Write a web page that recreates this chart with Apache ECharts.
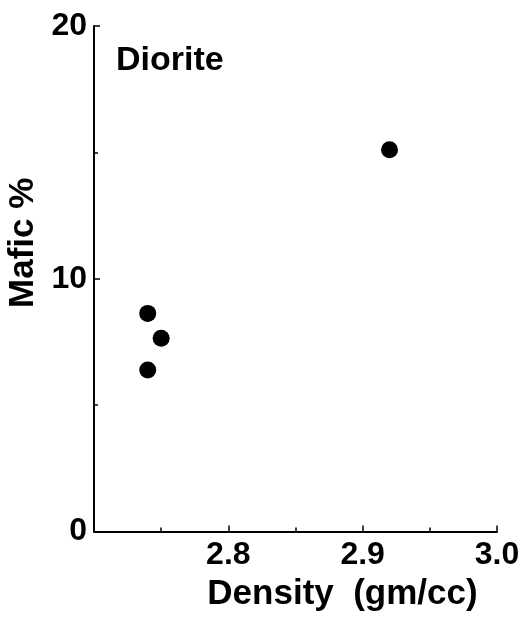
<!DOCTYPE html>
<html>
<head>
<meta charset="utf-8">
<script src="https://cdn.jsdelivr.net/npm/echarts@6/dist/echarts.min.js"></script>
<style>html,body{margin:0;padding:0;background:#fff;}#c{width:525px;height:621px;}</style>
</head>
<body>
<div id="c"></div>
<script>
var density = [2.740, 2.750, 2.740, 2.920];
var mafic = [8.63, 7.65, 6.39, 15.10];
var xTicks = [2.8, 2.9, 3.0];
var yTicks = [0, 10, 20];
var panelLabel = 'Diorite';
var xName = 'Density  (gm/cc)';
var yName = 'Mafic %';

var points = density.map(function (d, i) { return [d, mafic[i]]; });
var font = 'Liberation Sans, Arial, Helvetica, sans-serif';
var chart = echarts.init(document.getElementById('c'));
chart.setOption({
  backgroundColor: '#fff',
  animation: false,
  title: {
    text: panelLabel, left: 111, top: 39,
    textStyle: { fontFamily: font, fontSize: 34, fontWeight: 'bold', color: '#000' }
  },
  grid: { left: 94, right: 28, top: 26, bottom: 89.5, containLabel: false, outerBoundsMode: 'none' },
  xAxis: {
    type: 'value', min: 2.7, max: 3.0, interval: 0.1,
    name: xName, nameLocation: 'middle', nameGap: 42,
    nameTextStyle: { fontFamily: font, fontSize: 35, fontWeight: 'bold', color: '#000', padding: [0, 0, 0, 94] },
    axisLine: { show: true, onZero: false, lineStyle: { color: '#000', width: 2 } },
    axisTick: { show: true, inside: true, length: 6, lineStyle: { color: '#000', width: 1.5 } },
    minorTick: { show: true, splitNumber: 2, length: 4, lineStyle: { color: '#000', width: 1.5 } },
    splitLine: { show: false },
    axisLabel: {
      margin: 8, fontFamily: font, fontSize: 32, fontWeight: 'bold', color: '#000',
      formatter: function (v) {
        var s = v.toFixed(1);
        return xTicks.some(function (t) { return Math.abs(t - v) < 1e-6; }) ? s : '';
      }
    }
  },
  yAxis: {
    type: 'value', min: 0, max: 20, interval: 10,
    name: yName, nameLocation: 'middle', nameGap: 48,
    nameTextStyle: { fontFamily: font, fontSize: 35, fontWeight: 'bold', color: '#000', padding: [0, 0, 0, 72] },
    axisLine: { show: true, lineStyle: { color: '#000', width: 2 } },
    axisTick: { show: true, inside: true, length: 6, lineStyle: { color: '#000', width: 1.5 } },
    minorTick: { show: true, splitNumber: 2, length: 4, lineStyle: { color: '#000', width: 1.5 } },
    splitLine: { show: false },
    axisLabel: {
      margin: 7, fontFamily: font, fontSize: 32, fontWeight: 'bold', color: '#000',
      formatter: function (v) {
        return yTicks.indexOf(v) >= 0 ? String(v) : '';
      }
    }
  },
  series: [{
    type: 'scatter',
    data: points,
    symbol: 'circle',
    symbolSize: 17,
    itemStyle: { color: '#000', opacity: 1 }
  }]
});
</script>
</body>
</html>
